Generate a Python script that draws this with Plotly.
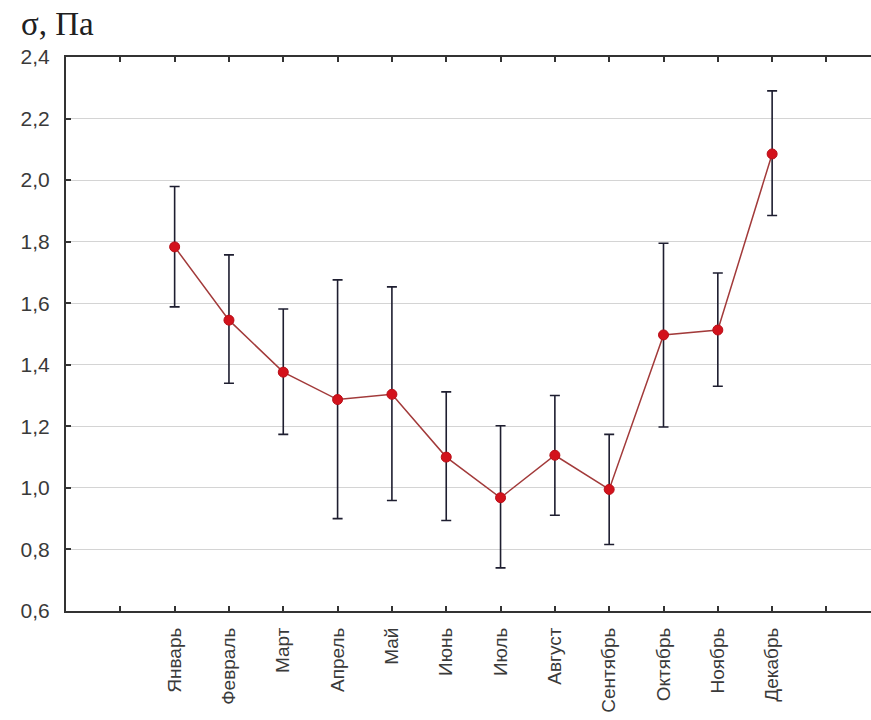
import plotly.graph_objects as go

months = ["Январь", "Февраль", "Март", "Апрель", "Май", "Июнь",
          "Июль", "Август", "Сентябрь", "Октябрь", "Ноябрь", "Декабрь"]
means = [1.783, 1.545, 1.376, 1.287, 1.304, 1.100, 0.968, 1.106, 0.995, 1.497, 1.513, 2.085]
upper = [1.979, 1.757, 1.581, 1.676, 1.653, 1.312, 1.202, 1.300, 1.174, 1.795, 1.698, 2.290]
lower = [1.588, 1.340, 1.174, 0.900, 0.959, 0.894, 0.740, 0.911, 0.816, 1.198, 1.330, 1.885]
y_ticks = [0.6, 0.8, 1.0, 1.2, 1.4, 1.6, 1.8, 2.0, 2.2, 2.4]

x_pos = list(range(1, len(months) + 1))
err_plus = [u - m for u, m in zip(upper, means)]
err_minus = [m - l for m, l in zip(means, lower)]

fig = go.Figure()
fig.add_trace(go.Scatter(
    x=x_pos, y=means, mode="lines+markers",
    line=dict(color="#a23a3a", width=1.5),
    marker=dict(size=10, color="#d3121c", line=dict(color="#b80f18", width=1)),
    error_y=dict(type="data", symmetric=False, array=err_plus, arrayminus=err_minus,
                 color="#1e1e30", thickness=1.6, width=5),
    showlegend=False,
))

tickvals = [0] + x_pos + [len(months) + 1]
ticktext = [""] + months + [""]

fig.update_layout(
    width=871, height=720,
    margin=dict(l=66, r=0, t=57, b=109, pad=0),
    paper_bgcolor="white", plot_bgcolor="white",
    separators=", ",
    font=dict(family="Liberation Sans, Arial, sans-serif", color="#3a3a3a"),
    title=dict(text="σ, Па", x=0.024, xanchor="left", y=0.968, yanchor="middle",
               font=dict(family="Liberation Serif, Times New Roman, serif", size=33, color="#202020")),
)
fig.update_xaxes(
    range=[-1, 13.82], tickmode="array", tickvals=tickvals, ticktext=ticktext,
    tickangle=-90, tickfont=dict(size=19, color="#3a3a3a"),
    showline=True, linecolor="#333333", linewidth=2, mirror="ticks",
    ticks="inside", ticklen=5, tickwidth=2, tickcolor="#333333",
    showgrid=False, zeroline=False, ticklabelstandoff=7,
)
fig.update_yaxes(
    range=[0.6, 2.4], tickmode="array", tickvals=y_ticks, tickformat=".1f",
    tickfont=dict(size=21, color="#3a3a3a"),
    showline=True, linecolor="#333333", linewidth=2, mirror=False,
    ticks="inside", ticklen=5, tickwidth=1.5, tickcolor="#333333",
    showgrid=True, gridcolor="#d4d4d4", gridwidth=1, zeroline=False,
    ticklabelstandoff=10,
)

fig.write_html("out.html")
